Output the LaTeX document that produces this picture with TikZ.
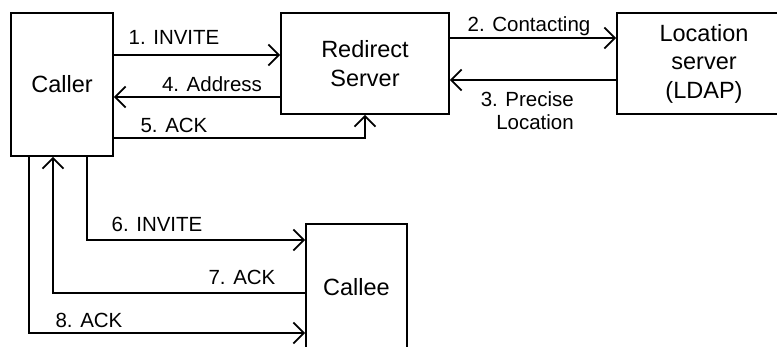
\documentclass[tikz,border=0pt]{standalone}
\usepackage{fontspec}
\setmainfont{Liberation Sans}
\usetikzlibrary{arrows.meta}

\tikzset{
  entity/.style={draw, line width=1.8pt, inner sep=0pt, align=center,
    font=\fontsize{23.5}{28.5}\selectfont},
  msg/.style={line width=1.8pt, -{Straight Barb[length=10.5pt,width=21pt]}},
  lab/.style={inner sep=0pt, font=\fontsize{20.5}{23}\selectfont}
}

\begin{document}
\begin{tikzpicture}[x=1pt, y=-1pt]
  \useasboundingbox (0,0) rectangle (777,347);
  \fill[white] (0,0) rectangle (777,347);
  \clip (0,0) rectangle (777,347);

  % participants
  \node[entity, minimum width=102pt, minimum height=143pt, text height=16.8pt, text depth=0pt]
    (caller) at (62,84.5) {Caller};
  \node[entity, minimum width=168pt, minimum height=101pt]
    (redirect) at (365,63.5) {Redirect\\Server};
  \node[entity, minimum width=174pt, minimum height=101pt]
    (location) at (704,63.5) {Location\\server\\(LDAP)};
  \node[entity, minimum width=101pt, minimum height=126pt, text height=16.8pt, text depth=0pt]
    (callee) at (356.5,287) {Callee};

  % caller <-> redirect server
  \draw[msg] (caller.east |- 0,55) -- (redirect.west |- 0,55);
  \node[lab, anchor=base] (l1) at (174,45) {1. INVITE};
  \draw[msg] (redirect.west |- 0,97) -- (caller.east |- 0,97);
  \node[lab, anchor=base] (l4) at (212,92) {4. Address};
  \draw[msg] (caller.east |- 0,138) -| (redirect.south);
  \node[lab, anchor=base] (l5) at (174,133) {5. ACK};

  % redirect server <-> location server
  \draw[msg] (redirect.east |- 0,38) -- (location.west |- 0,38);
  \node[lab, anchor=base] (l2) at (529,31.5) {2. Contacting};
  \draw[msg] (location.west |- 0,80) -- (redirect.east |- 0,80);
  \node[lab, anchor=east, align=right] (l3) at (574,111) {3. Precise\\Location};

  % caller <-> callee
  \draw[msg] (caller.south -| 87,0) |- (callee.west |- 0,240);
  \node[lab, anchor=base] (l6) at (157,232) {6. INVITE};
  \draw[msg] (callee.west |- 0,293) -| (caller.south -| 53,0);
  \node[lab, anchor=base] (l7) at (242,285) {7. ACK};
  \draw[msg] (caller.south -| 29,0) |- (callee.west |- 0,333);
  \node[lab, anchor=base] (l8) at (89,328) {8. ACK};
\end{tikzpicture}
\end{document}
